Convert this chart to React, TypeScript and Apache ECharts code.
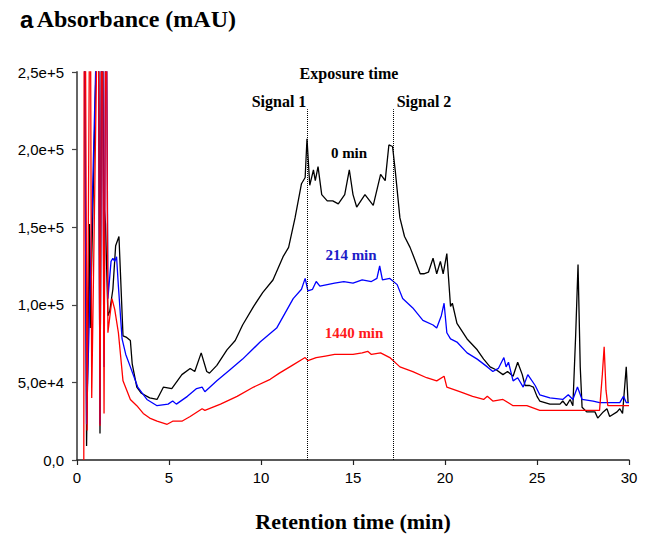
import React, { useEffect, useRef } from "react";
import * as echarts from "echarts";

// Retention time (min), absorbance (thousands of mAU)
const curve0min: [number, number][] = [
  [0.36, 300], [0.4, 300], [0.52, 9], [0.68, 152], [0.72, 85], [1.12, 300], [1.17, 300],
  [1.25, 17], [1.34, 300], [1.38, 300],
  [1.45, 167], [1.55, 152], [1.68, 93], [1.78, 96], [1.95, 110], [2.1, 138], [2.28, 144],
  [2.38, 115], [2.5, 80], [2.7, 79], [2.9, 77], [3.0, 62], [3.25, 47], [3.5, 43], [3.95, 40],
  [4.35, 39], [4.7, 47], [5.15, 46], [5.7, 55], [6.15, 59], [6.4, 57], [6.75, 69], [7.05, 57],
  [7.2, 56], [7.6, 61], [8.15, 71], [8.6, 77], [9.0, 87], [9.6, 99], [10.1, 108], [10.65, 116],
  [11.2, 131], [11.5, 137], [11.85, 156], [12.2, 178], [12.4, 182], [12.5, 207], [12.65, 177],
  [12.85, 187], [12.95, 180], [13.1, 189], [13.3, 171], [13.6, 167], [13.9, 167], [14.2, 165],
  [14.55, 171], [14.8, 187], [15.0, 171], [15.2, 163], [15.65, 171], [16.1, 164], [16.5, 184],
  [16.75, 180], [16.95, 203], [17.15, 202], [17.3, 186], [17.55, 156], [17.8, 144], [18.1, 137],
  [18.3, 131], [18.65, 120], [18.85, 120], [19.1, 121], [19.35, 130], [19.55, 120], [19.75, 128],
  [19.9, 120], [20.1, 133], [20.3, 99], [20.4, 101], [20.65, 88], [21.2, 78], [21.75, 71],
  [22.1, 65], [22.45, 60], [22.8, 58], [23.15, 55], [23.4, 57], [23.7, 54], [23.95, 63],
  [24.2, 55], [24.35, 48], [24.6, 48], [24.8, 47], [25.0, 41], [25.15, 38], [25.7, 36],
  [26.25, 36], [26.4, 38], [26.6, 35], [26.8, 39], [26.95, 35], [27.1, 80], [27.23, 126],
  [27.35, 60], [27.45, 34], [27.7, 31], [28.15, 31], [28.3, 27], [28.6, 31], [28.8, 33],
  [28.95, 28], [29.35, 31], [29.5, 33], [29.65, 30], [29.85, 60], [29.95, 37],
];

const curve214min: [number, number][] = [
  [0.36, 300], [0.4, 300], [0.52, 23], [1.12, 300], [1.16, 300], [1.25, 23], [1.34, 300],
  [1.38, 300], [1.47, 60], [1.56, 300], [1.6, 300], [1.68, 104], [1.85, 128], [1.95, 130],
  [2.05, 128], [2.15, 131], [2.25, 112], [2.45, 78],
  [2.65, 68], [2.9, 60], [3.3, 47], [3.8, 39], [4.35, 35], [4.95, 36], [5.2, 38], [5.4, 36],
  [6.0, 41], [6.5, 46], [6.8, 47], [6.95, 44], [7.6, 51], [8.3, 58], [9.0, 65], [9.95, 76],
  [10.85, 85], [11.75, 104], [12.2, 110], [12.4, 117], [12.55, 109], [12.8, 110], [13.0, 115],
  [13.2, 112], [13.6, 113], [14.0, 114], [14.5, 115], [15.0, 114], [15.5, 116], [16.0, 115],
  [16.3, 117], [16.45, 125], [16.6, 116], [17.0, 117], [17.4, 113], [17.7, 104], [18.25, 98],
  [18.8, 90], [19.35, 87], [19.55, 85], [19.8, 93], [19.95, 101], [20.1, 82], [20.3, 78],
  [20.65, 76], [21.2, 69], [21.75, 65], [22.3, 60], [22.6, 57], [22.9, 59], [23.2, 66],
  [23.32, 60], [23.45, 63], [23.7, 51], [23.95, 53], [24.25, 47], [24.5, 55], [24.9, 48],
  [25.15, 42], [25.7, 40], [26.4, 39], [26.7, 42], [26.95, 39], [27.2, 47], [27.45, 39],
  [28.05, 38], [28.4, 37], [28.85, 37], [29.5, 37], [29.7, 41], [29.85, 37], [30, 37],
];

const curve1440min: [number, number][] = [
  [0.37, 0], [0.39, 300], [0.45, 300], [0.55, 19], [0.69, 300], [0.73, 300], [0.8, 40],
  [1.12, 300], [1.16, 300], [1.25, 22], [1.34, 300], [1.38, 300], [1.47, 30], [1.56, 300],
  [1.6, 300], [1.68, 82], [1.9, 104], [2.05, 97], [2.25, 82],
  [2.5, 51], [2.9, 39], [3.25, 35], [3.6, 30], [3.95, 27], [4.35, 25], [4.9, 23], [5.2, 25],
  [5.7, 25], [6.15, 28], [6.8, 33], [6.95, 32], [7.8, 36], [8.7, 41], [9.6, 47], [10.5, 52],
  [11.0, 56], [11.7, 61], [12.4, 66], [12.55, 64], [13.0, 66], [13.5, 67], [14.0, 68],
  [14.5, 68], [15.0, 68], [15.5, 69], [15.8, 70], [16.0, 68], [16.5, 69], [17.0, 66],
  [17.55, 60], [18.25, 57], [19.0, 53], [19.55, 51], [19.95, 54], [20.1, 47], [20.8, 44],
  [21.5, 41], [22.1, 39], [22.3, 41], [22.6, 38], [23.15, 39], [23.7, 35], [24.45, 35],
  [25.15, 32], [26.25, 32], [27.7, 32], [28.4, 32], [28.55, 55], [28.65, 73], [28.75, 45],
  [28.85, 35], [29.5, 35], [30, 35],
];

const yTickLabels = ["0,0", "5,0e+4", "1,0e+5", "1,5e+5", "2,0e+5", "2,5e+5"];
const signalTimes = [12.5, 17.2];
const signalTop = 226;

export default function App() {
  const ref = useRef<HTMLDivElement>(null);
  useEffect(() => {
    document.body.style.margin = "0";
    const chart = echarts.init(ref.current!, null, { renderer: "svg" });
    const lineBase = (name: string, data: [number, number][], color: string) => ({
      name,
      type: "line",
      data,
      showSymbol: false,
      symbol: "none",
      clip: true,
      silent: true,
      lineStyle: { color, width: 1.3 },
      itemStyle: { color },
    });
    const black: any = lineBase("0 min", curve0min, "#000");
    black.markLine = {
      silent: true,
      symbol: ["none", "none"],
      label: { show: false },
      lineStyle: { type: "dotted", color: "#000", width: 1 },
      data: signalTimes.map((t) => [{ coord: [t, 0] }, { coord: [t, signalTop] }]),
    };
    const serif = "'Liberation Serif', 'Times New Roman', serif";
    const sans = "'Liberation Sans', Arial, sans-serif";
    const txt = (text: string, x: number, y: number, color = "#000", size = 16) => ({
      type: "text",
      x,
      y,
      style: {
        text,
        fill: color,
        font: `bold ${size}px ${serif}`,
        textAlign: "center",
        textVerticalAlign: "middle",
      },
    });
    chart.setOption({
      animation: false,
      backgroundColor: "#fff",
      grid: { left: 77, right: 20, top: 72, bottom: 70 },
      xAxis: {
        type: "value",
        min: 0,
        max: 30,
        interval: 5,
        splitLine: { show: false },
        axisLine: { show: true, lineStyle: { color: "#222", width: 1.5 } },
        axisTick: { show: true, length: 5, lineStyle: { color: "#222", width: 1.2 } },
        axisLabel: { color: "#000", fontFamily: sans, fontSize: 15, margin: 10 },
        name: "Retention time (min)",
        nameLocation: "middle",
        nameGap: 50,
        nameTextStyle: { fontFamily: serif, fontWeight: "bold", fontSize: 22, color: "#000" },
      },
      yAxis: {
        type: "value",
        min: 0,
        max: 250,
        interval: 50,
        splitLine: { show: false },
        axisLine: { show: true, lineStyle: { color: "#666", width: 2 } },
        axisTick: { show: true, length: 5, lineStyle: { color: "#444", width: 1.2 } },
        axisLabel: {
          color: "#000",
          fontFamily: sans,
          fontSize: 15,
          margin: 13,
          formatter: (v: number) => yTickLabels[Math.round(v / 50)] ?? "",
        },
      },
      series: [
        black,
        lineBase("214 min", curve214min, "#0000ff"),
        lineBase("1440 min", curve1440min, "#ff0000"),
      ],
      graphic: [
        {
          type: "text",
          x: 20,
          y: 19,
          style: {
            text: "{a|a} {b|Absorbance (mAU)}",
            textVerticalAlign: "middle",
            rich: {
              a: { fontFamily: sans, fontWeight: "bold", fontSize: 24, fill: "#000" },
              b: { fontFamily: serif, fontWeight: "bold", fontSize: 24, fill: "#000" },
            },
          },
        },
        txt("Exposure time", 349, 73),
        txt("Signal 1", 279, 101),
        txt("Signal 2", 424, 101),
        txt("0 min", 349, 153, "#000", 15),
        txt("214 min", 351, 255, "#1c1cc8", 15),
        txt("1440 min", 354, 333, "#ff1a1a", 15),
      ],
    });
    return () => chart.dispose();
  }, []);
  return <div ref={ref} style={{ width: 649, height: 537 }} />;
}
